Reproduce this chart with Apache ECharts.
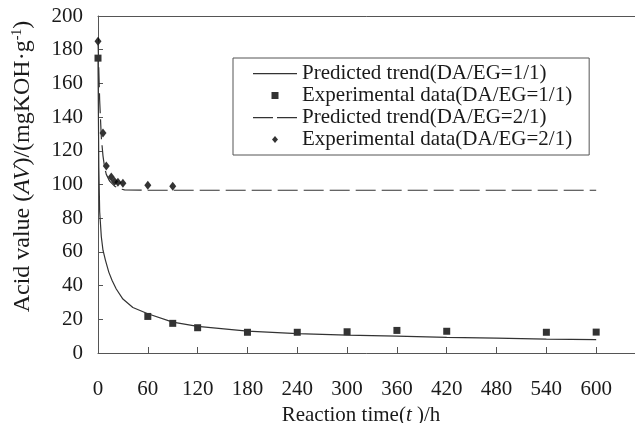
<!DOCTYPE html>
<html>
<head>
<meta charset="utf-8">
<script src="https://cdn.jsdelivr.net/npm/echarts@6/dist/echarts.min.js"></script>
<style>
  html, body { margin: 0; padding: 0; background: #fff; }
  #chart { width: 635px; height: 423px; }
</style>
</head>
<body>
<div id="chart"></div>
<script>
// 数据：读自原图
let legendNames = [
  'Predicted trend(DA/EG=1/1)',
  'Experimental data(DA/EG=1/1)',
  'Predicted trend(DA/EG=2/1)',
  'Experimental data(DA/EG=2/1)'
];
let xTicks = [0, 60, 120, 180, 240, 300, 360, 420, 480, 540, 600];

// 预测曲线 DA/EG=1/1  [时间h, 酸值]
let trend11 = [
  [0, 175], [0.5, 140], [1, 110], [2, 84], [4, 69], [6, 61], [9, 55], [13, 48],
  [17, 43], [22, 38], [30, 32], [42, 27], [60, 23.3], [90, 18.3], [120, 15.8],
  [180, 13], [240, 11.5], [300, 10.6], [360, 10], [420, 9.3], [480, 8.8],
  [540, 8.2], [600, 7.9]
];
// 实验数据 DA/EG=1/1
let exp11 = [
  [0, 175], [60, 21.7], [90, 17.6], [120, 15], [180, 12.3], [240, 12.3],
  [300, 12.6], [360, 13.4], [420, 12.9], [540, 12.3], [600, 12.4]
];
// 预测曲线 DA/EG=2/1
let trend21 = [
  [0, 185], [2, 150], [4, 128], [6, 117], [8, 110], [10, 106], [14, 102],
  [20, 99], [26, 97.5], [32, 96.8], [60, 96.6], [600, 96.6]
];
// 实验数据 DA/EG=2/1
let exp21 = [
  [0, 185], [6, 130.5], [10, 111], [16, 104.4], [20, 101.8], [24, 101.4],
  [30, 100.8], [60, 99.5], [90, 98.9]
];

let serif = 'Liberation Serif';
let ink = '#1a1a1a';
let axisColor = '#555';
let fs = 21;

// 图例图标：都画在 44x7 的框里（前面的空点只用来撑开包围盒）
let iconSolid = 'path://M0,0 L0,0 M0,7 L0,7 M0,3 L44,3 L44,4.2 L0,4.2 Z';
let iconDashed = 'path://M0,0 L0,0 M0,7 L0,7 M0,3 L20,3 L20,4.2 L0,4.2 Z M24,3 L44,3 L44,4.2 L24,4.2 Z';
let iconSquare = 'path://M0,0 L0,0 M44,7 L44,7 M18.5,0 L25.5,0 L25.5,7 L18.5,7 Z';
let iconDiamond = 'path://M0,0 L0,0 M44,7 L44,7 M22,0 L25,3.5 L22,7 L19,3.5 Z';

let option = {
  animation: false,
  backgroundColor: '#fff',
  textStyle: { fontFamily: serif, color: ink },
  // 原图右侧被裁掉，网格故意伸出画布
  grid: {
    left: 98, top: 16, width: 548, bottom: 70,
    outerBoundsMode: 'none',
    containLabel: false,
    show: false
  },
  legend: {
    orient: 'vertical',
    left: 233, top: 58,
    data: [
      { name: legendNames[0], icon: iconSolid },
      { name: legendNames[1], icon: iconSquare },
      { name: legendNames[2], icon: iconDashed },
      { name: legendNames[3], icon: iconDiamond }
    ],
    itemWidth: 44, itemHeight: 7, itemGap: 1,
    padding: [5, 17, 5, 20],
    borderColor: axisColor, borderWidth: 1,
    textStyle: { fontFamily: serif, fontSize: fs, color: ink }
  },
  xAxis: [
    {
      type: 'value',
      min: 0, max: 660, interval: 60,
      name: '{n|Reaction time(}{i|t}{n| )/h}',
      nameLocation: 'middle',
      nameGap: 32,
      nameTextStyle: {
        padding: [0, 22, 0, 0],
        rich: {
          n: { fontFamily: serif, fontSize: fs, color: ink },
          i: { fontFamily: serif, fontSize: fs, color: ink, fontStyle: 'italic' }
        }
      },
      axisLine: { lineStyle: { color: axisColor, width: 1 } },
      axisTick: { inside: true, length: 6, lineStyle: { color: axisColor } },
      axisLabel: {
        margin: 26, fontSize: fs, color: ink, fontFamily: serif,
        formatter: function (v) { return xTicks.indexOf(v) >= 0 ? String(v) : ''; }
      },
      splitLine: { show: false }
    },
    {
      // 上边框
      type: 'value', position: 'top',
      min: 0, max: 660,
      axisLine: { show: true, lineStyle: { color: axisColor, width: 1 } },
      axisTick: { show: false },
      axisLabel: { show: false },
      splitLine: { show: false }
    }
  ],
  yAxis: {
    type: 'value',
    min: 0, max: 200, interval: 20,
    name: '{n|Acid value (}{i|AV}{n|)/(mgKOH·g}{s|-1}{n|)}',
    nameLocation: 'middle',
    nameRotate: 90,
    nameGap: 62,
    nameTextStyle: {
      padding: [0, 0, 0, 36],
      rich: {
        n: { fontFamily: serif, fontSize: 24, color: ink, lineHeight: 26 },
        i: { fontFamily: serif, fontSize: 24, color: ink, fontStyle: 'italic', lineHeight: 26 },
        s: { fontFamily: serif, fontSize: 14, color: ink, lineHeight: 26, verticalAlign: 'top' }
      }
    },
    axisLine: { show: true, lineStyle: { color: axisColor, width: 1 } },
    axisTick: { show: true, inside: true, length: 5, lineStyle: { color: axisColor } },
    axisLabel: { margin: 15, fontSize: fs, color: ink, fontFamily: serif },
    splitLine: { show: false }
  },
  series: [
    {
      name: legendNames[0],
      type: 'line',
      data: trend11,
      symbol: 'none',
      lineStyle: { color: '#333', width: 1.2, type: 'solid' },
      itemStyle: { color: '#333' }
    },
    {
      name: legendNames[1],
      type: 'scatter',
      data: exp11,
      symbol: 'rect',
      symbolSize: 7,
      itemStyle: { color: '#000' }
    },
    {
      name: legendNames[2],
      type: 'line',
      data: trend21,
      symbol: 'none',
      lineStyle: { color: '#333', width: 1.2, type: [20, 6] },
      itemStyle: { color: '#333' }
    },
    {
      name: legendNames[3],
      type: 'scatter',
      data: exp21,
      symbol: 'diamond',
      symbolSize: [7, 9],
      itemStyle: { color: '#000' }
    }
  ]
};

let myChart = echarts.init(document.getElementById('chart'));
myChart.setOption(option);
</script>
</body>
</html>
